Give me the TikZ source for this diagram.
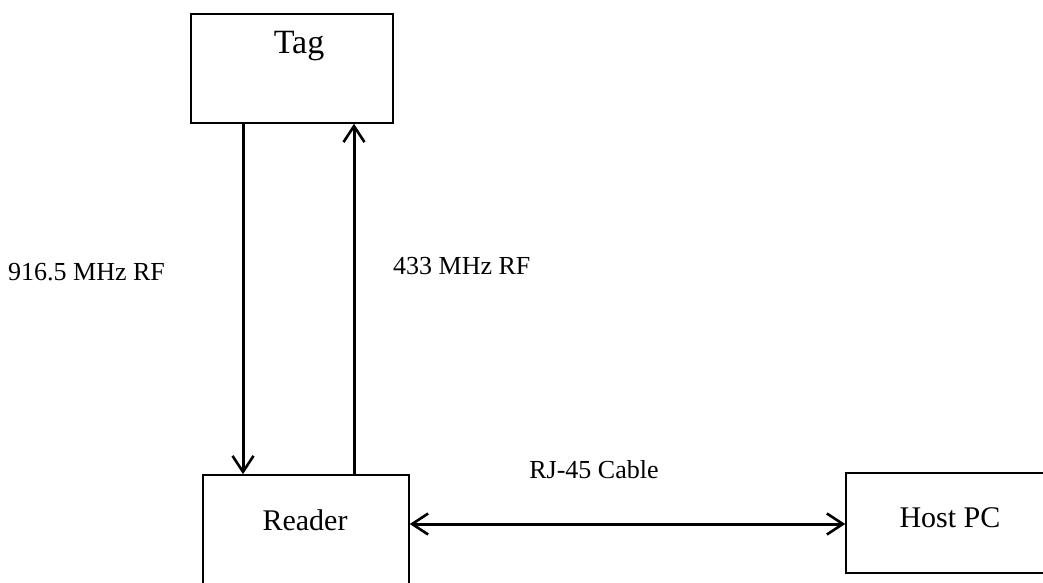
\documentclass[tikz,border=0pt]{standalone}
\usepackage{fontspec}
\setmainfont{Liberation Serif}
\usetikzlibrary{arrows.meta}
\begin{document}
\begin{tikzpicture}[x=1pt,y=-1pt,
  box/.style={draw=black,line width=1.5pt,rectangle,inner sep=0pt},
  boxtext/.style={font=\fontsize{30}{34}\selectfont,inner sep=0pt},
  edgetext/.style={font=\fontsize{26}{30}\selectfont,inner sep=0pt},
  tip/.style={Straight Barb[length=16pt,width=21pt,line width=2.6pt]},
  link/.style={line width=3pt,-{Straight Barb[length=16pt,width=21pt,line width=2.6pt]}},
  link2/.style={line width=3pt,{Straight Barb[length=16pt,width=21pt,line width=2.6pt]}-{Straight Barb[length=16pt,width=21pt,line width=2.6pt]}}]
\useasboundingbox (0,0) rectangle (1043,583);
\clip (0,0) rectangle (1043,583);
\fill[white] (0,0) rectangle (1043,583);
% boxes
\node[box,minimum width=202pt,minimum height=109pt] (tag) at (292,68.5) {};
\node[box,minimum width=206pt,minimum height=140pt] (reader) at (306,545) {};
\node[box,minimum width=240pt,minimum height=100pt] (host) at (966,523) {};
% box texts
\node[boxtext,font=\fontsize{34}{38}\selectfont] (tagt) at (299,46) {Tag};
\node[boxtext] (readert) at (305,520) {Reader};
\node[boxtext] (hostt) at (950,518) {Host PC};
% connectors
\draw[link] (tag.south -| 243,0) -- (reader.north -| 243,0);
\draw[link] (reader.north -| 354,0) -- (tag.south -| 354,0);
\draw[link2] (reader.east |- 0,524) -- (host.west |- 0,524);
% labels
\node[edgetext,anchor=west] (l1) at (8,272) {916.5 MHz RF};
\node[edgetext,anchor=west] (l2) at (393,266) {433 MHz RF};
\node[edgetext] (l3) at (594,470) {RJ-45 Cable};
\end{tikzpicture}
\end{document}
